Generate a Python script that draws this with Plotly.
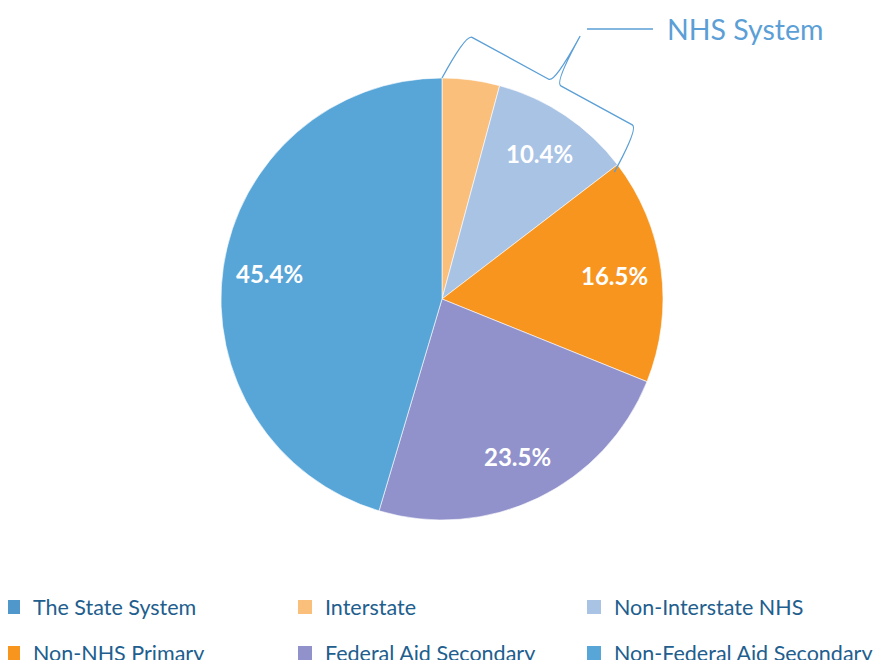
import math
import plotly.graph_objects as go

# ---- data -------------------------------------------------------------
categories = ["The State System", "Interstate", "Non-Interstate NHS",
              "Non-NHS Primary", "Federal Aid Secondary", "Non-Federal Aid Secondary"]
shares = [0.0, 4.2, 10.4, 16.5, 23.5, 45.4]
colors = ["#5097CC", "#FBBF7C", "#A9C3E5", "#F7951F", "#9192CB", "#58A5D8"]
label_min_share = 10.0
brace_group = ["Interstate", "Non-Interstate NHS"]
brace_title = "NHS System"

# ---- layout geometry (screen pixels) ----------------------------------
W, H = 883, 660
OFF = 8            # default page body margin of the browser
CX, CY, R = 442, 299, 221
LEG_COLOR = "#215E8E"
ACCENT = "#5B9FD6"


def to_paper(sx, sy):
    return (sx - OFF) / W, 1 - (sy - OFF) / H


def on_circle(frac, rr):
    a = 2 * math.pi * frac
    return CX + rr * math.sin(a), CY - rr * math.cos(a)


total = sum(shares)
dx0, dy1 = to_paper(CX - R, CY - R)
dx1, dy0 = to_paper(CX + R, CY + R)

fig = go.Figure()
fig.add_trace(go.Pie(
    labels=categories, values=shares, textinfo="none",
    sort=False, direction="clockwise", rotation=0,
    marker=dict(colors=colors, line=dict(color="white", width=0.6)),
    domain=dict(x=[dx0, dx1], y=[dy0, dy1]),
    showlegend=False, hoverinfo="label+percent",
))

# percentage labels at ~0.79 R along each slice's middle angle
annotations = []
cum = 0.0
for v in shares:
    mid = (cum + v / 2) / total
    cum += v
    if v >= label_min_share:
        px, py = to_paper(*on_circle(mid, 0.79 * R))
        annotations.append(dict(
            text=f"{v:.1f}%", x=px, y=py, xref="paper", yref="paper",
            xanchor="center", yanchor="middle", showarrow=False,
            font=dict(family="Lato", size=24, color="white", weight="bold")))

# legend entries: three columns, two rows, one legend per entry
col_text_x = [33, 325, 614]
row_y = [607, 653]
legends = {}
for i, (name, col) in enumerate(zip(categories, colors)):
    key = "legend" if i == 0 else f"legend{i + 1}"
    fig.add_trace(go.Scatter(
        x=[None], y=[None], mode="markers", name=name,
        marker=dict(symbol="square", size=14, color=col),
        legend=key, hoverinfo="skip",
    ))
    lx, ly = to_paper(col_text_x[i % 3] - 40, row_y[i // 3])
    legends[key] = dict(x=lx, y=ly, xanchor="left", yanchor="middle",
                        font=dict(family="Lato", size=21.5, color=LEG_COLOR),
                        bgcolor="rgba(0,0,0,0)")

# ---- NHS brace, following the slices of the group --------------------
start_frac = sum(shares[:categories.index(brace_group[0])]) / total
end_frac = sum(shares[:categories.index(brace_group[-1]) + 1]) / total
A = on_circle(start_frac, R)
B = on_circle(end_frac + 0.003, R - 7)
L = math.hypot(B[0] - A[0], B[1] - A[1])
u = ((B[0] - A[0]) / L, (B[1] - A[1]) / L)
n = (u[1], -u[0])  # outward normal (screen coords)


def P(s, p):
    x = A[0] + s * L * u[0] + p * L * n[0]
    y = A[1] + s * L * u[1] + p * L * n[1]
    xp, yp = to_paper(x, y)
    return f"{xp:.5f},{yp:.5f}"


h1, h2, q, m = 0.255, 0.525, 0.035, 0.515
path = (f"M {P(0, 0)} Q {P(0, h1)} {P(q, h1)} L {P(m - q, h1)} "
        f"Q {P(m, h1)} {P(m, h2)} Q {P(m, h1)} {P(m + q, h1)} "
        f"L {P(1 - q, h1)} Q {P(1, h1)} {P(1, 0)}")

lx0, ly0 = to_paper(587, 29)
lx1, _ = to_paper(653, 29)
tx, ty = to_paper(665, 29)
annotations.append(dict(
    text=brace_title, x=tx, y=ty, xref="paper", yref="paper",
    xanchor="left", yanchor="middle", showarrow=False,
    font=dict(family="Lato", size=28.5, color=ACCENT)))

fig.update_layout(
    width=W, height=H,
    margin=dict(l=0, r=0, t=0, b=0, autoexpand=False),
    paper_bgcolor="white", plot_bgcolor="white",
    xaxis=dict(visible=False), yaxis=dict(visible=False),
    shapes=[
        dict(type="path", path=path, xref="paper", yref="paper",
             line=dict(color=ACCENT, width=1.3)),
        dict(type="line", x0=lx0, y0=ly0, x1=lx1, y1=ly0, xref="paper", yref="paper",
             line=dict(color=ACCENT, width=1.3)),
    ],
    annotations=annotations,
    **legends,
)

fig.write_html("out.html")
